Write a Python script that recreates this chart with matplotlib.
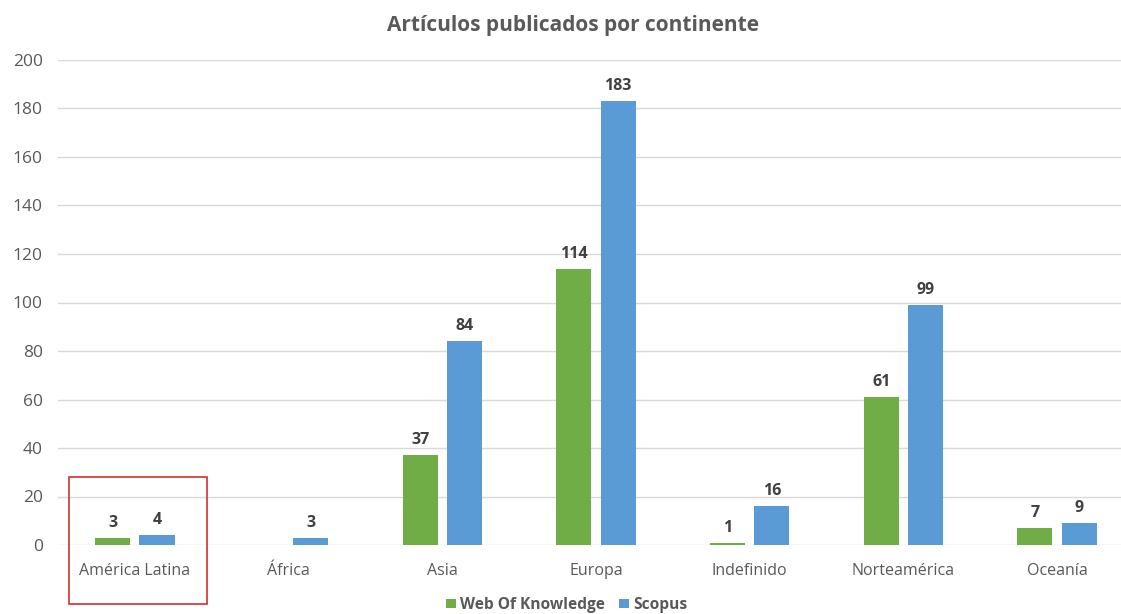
import matplotlib
matplotlib.use("Agg")
from matplotlib import pyplot as plt
from matplotlib.patches import Rectangle
import numpy as np

continents = ["América Latina", "África", "Asia", "Europa",
              "Indefinido", "Norteamérica", "Oceanía"]
wok = [3, 0, 37, 114, 1, 61, 7]
scopus = [4, 3, 84, 183, 16, 99, 9]
wok_labels = ["3", "", "37", "114", "1", "61", "7"]
scopus_labels = ["4", "3", "84", "183", "16", "99", "9"]

green = "#70ad47"
blue = "#5b9bd5"
grey = "#595959"

plt.rcParams['font.family'] = ['Open Sans', 'DejaVu Sans']

fig = plt.figure(figsize=(11.21, 6.14), dpi=100)
W, H = 1121, 614
ax = fig.add_axes([58 / W, (H - 545) / H, (W - 58) / W, 485 / H])

x = np.arange(len(continents))
width = 0.228
off = 0.144
b1 = ax.bar(x - off, wok, width, color=green, label="Web Of Knowledge", zorder=3)
b2 = ax.bar(x + off, scopus, width, color=blue, label="Scopus", zorder=3)

for bars, labels in ((b1, wok_labels), (b2, scopus_labels)):
    for rect, lab in zip(bars, labels):
        if not lab:
            continue
        ax.annotate(lab, (rect.get_x() + rect.get_width() / 2, rect.get_height()),
                    xytext=(0, 5), textcoords="offset points", ha="center", va="bottom",
                    fontsize=11.5, fontweight="bold", color="#404040")

ax.set_xlim(-0.5, -0.5 + (W - 58) / 153.7)
ax.set_ylim(0, 200)
ax.set_yticks(range(0, 201, 20))
ax.set_xticks(x)
ax.set_xticklabels(continents)
ax.yaxis.grid(True, color="#d9d9d9", linewidth=1, zorder=0)
for s in ax.spines.values():
    s.set_visible(False)
ax.tick_params(axis="both", length=0, colors=grey)
ax.tick_params(axis="x", pad=13, labelsize=11.5)
ax.tick_params(axis="y", pad=11, labelsize=12.5)

fig.text(573 / W, 1 - 26 / H, "Artículos publicados por continente", ha="center",
         va="center", fontsize=15, fontweight="bold", color=grey)

fig.legend(loc="center", bbox_to_anchor=(567 / W, 1 - 605 / H), ncol=2, frameon=False,
           handlelength=0.6, handleheight=0.6, handletextpad=0.3,
           columnspacing=0.9, prop={"weight": "bold", "size": 11.2})
for t in fig.legends[0].get_texts():
    t.set_color(grey)

fig.patches.append(Rectangle((69 / W, 1 - 604 / H), 138 / W, 127 / H,
                             transform=fig.transFigure, fill=False,
                             edgecolor="#d03030", linewidth=1.2))

fig.savefig("out.png", dpi=100)
